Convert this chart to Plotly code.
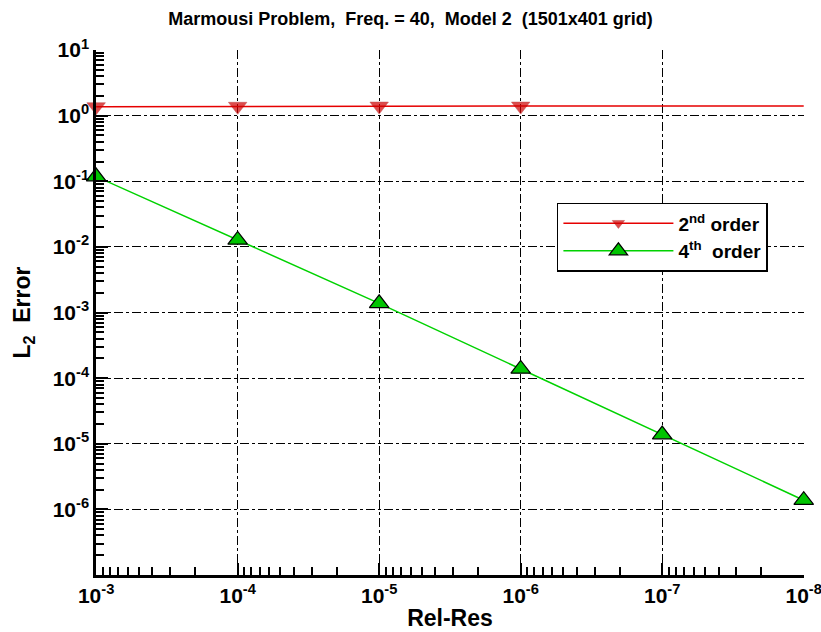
import plotly.graph_objects as go

# Data
rel_res = [1e-3, 1e-4, 1e-5, 1e-6, 1e-7, 1e-8]
err_2nd = [1.37, 1.39, 1.40, 1.40, 1.41, 1.41]
err_4th = [0.118, 0.0128, 0.00138, 0.000138, 0.0000138, 0.00000138]
marker_2nd_shown = [True, True, True, True, False, False]

x_tickvals = [1e-3, 1e-4, 1e-5, 1e-6, 1e-7, 1e-8]
x_ticktext = ["<b>10<sup>-3</sup></b>", "<b>10<sup>-4</sup></b>", "<b>10<sup>-5</sup></b>",
              "<b>10<sup>-6</sup></b>", "<b>10<sup>-7</sup></b>", "<b>10<sup>-8</sup></b>"]
y_tickvals = [1e1, 1e0, 1e-1, 1e-2, 1e-3, 1e-4, 1e-5, 1e-6]
y_ticktext = ["<b>10<sup>1</sup></b>", "<b>10<sup>0</sup></b>", "<b>10<sup>-1</sup></b>", "<b>10<sup>-2</sup></b>",
              "<b>10<sup>-3</sup></b>", "<b>10<sup>-4</sup></b>", "<b>10<sup>-5</sup></b>", "<b>10<sup>-6</sup></b>"]

FONT = "Liberation Sans, Arial, Helvetica, sans-serif"
RED = "#e60000"
GREEN = "#00d200"

fig = go.Figure()
fig.add_trace(go.Scatter(
    x=rel_res, y=err_2nd, mode="lines+markers", name="<b>2<sup>nd</sup> order</b>",
    line=dict(color=RED, width=1.5),
    marker=dict(symbol="triangle-down", color="#d00000", line=dict(color="#a00000", width=0.5),
                size=[16 if s else 0 for s in marker_2nd_shown]),
    cliponaxis=False,
))
fig.add_trace(go.Scatter(
    x=rel_res, y=err_4th, mode="lines+markers", name="<b>4<sup>th</sup>  order</b>",
    line=dict(color=GREEN, width=1.5),
    marker=dict(symbol="triangle-up", color="#00c400", line=dict(color="black", width=1.2), size=17),
    cliponaxis=False,
))

axis_common = dict(
    type="log", automargin=False,
    showline=True, linecolor="black", linewidth=2.5,
    showgrid=True, gridcolor="black", gridwidth=1, griddash="dashdot",
    ticks="inside", ticklen=12, tickwidth=2, tickcolor="black",
    tickmode="array",
    tickfont=dict(family=FONT, size=21, color="black"),
    ticklabeloverflow="allow",
    zeroline=False, mirror=False,
    minor=dict(ticks="inside", ticklen=8, tickwidth=1.6, tickcolor="black", showgrid=False,
               tickmode="linear", dtick="D1"),
)

fig.update_xaxes(**axis_common, tickvals=x_tickvals, ticktext=x_ticktext,
                 range=[-2.999, -8.002],
                 title=dict(text="<b>Rel-Res</b>", font=dict(family=FONT, size=23, color="black"), standoff=4))
fig.update_yaxes(**axis_common, tickvals=y_tickvals, ticktext=y_ticktext,
                 range=[-7, 1.001],
                 title=dict(text="<b>L<sub>2</sub>  Error</b>", font=dict(family=FONT, size=23, color="black"), standoff=16))

fig.update_layout(
    width=821, height=632,
    margin=dict(l=96, r=17, t=50, b=57),
    paper_bgcolor="white", plot_bgcolor="white",
    title=dict(text="<b>Marmousi Problem,  Freq. = 40,  Model 2  (1501x401 grid)</b>",
               x=0.5, xanchor="center", y=0.97, yanchor="middle",
               font=dict(family=FONT, size=18, color="black")),
    legend=dict(x=0.651, y=0.709, xanchor="left", yanchor="top",
                bordercolor="black", borderwidth=1.5, bgcolor="white",
                font=dict(family=FONT, size=19, color="black"),
                itemwidth=110, tracegroupgap=0),
    showlegend=True,
)

fig.write_html("out.html")
